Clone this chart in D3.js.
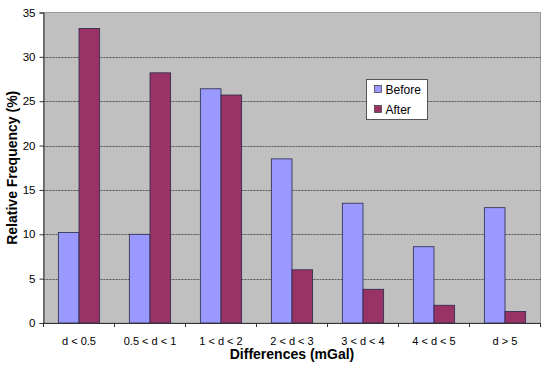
<!DOCTYPE html>
<html>
<head>
<meta charset="utf-8">
<script src="https://cdn.jsdelivr.net/npm/d3@7"></script>
<style>
  body { margin: 0; background: #fff; }
  text { font-family: Arial, "Liberation Sans", sans-serif; }
</style>
</head>
<body>
<div id="chart"></div>
<script>
let categories = ['d < 0.5', '0.5 < d < 1', '1 < d < 2', '2 < d < 3', '3 < d < 4', '4 < d < 5', 'd > 5']
let before = [10.2, 10.0, 26.4, 18.5, 13.5, 8.6, 13.0]
let after = [33.2, 28.2, 25.7, 6.0, 3.8, 2.0, 1.3]
let seriesNames = ['Before', 'After']
let yTicks = [0, 5, 10, 15, 20, 25, 30, 35]

let width = 550, height = 366
let margin = { top: 12.5, right: 9.5, bottom: 43, left: 43.5 }
let colors = d3.scaleOrdinal().domain(seriesNames).range(['#9999ff', '#993366'])

let svg = d3.select('#chart')
  .append('svg')
  .attr('width', width)
  .attr('height', height)

let x = d3.scaleBand()
  .domain(categories)
  .range([margin.left, width - margin.right])
  .paddingInner(0)

let x1 = d3.scaleBand()
  .domain(seriesNames)
  .range([0, x.bandwidth()])
  .paddingOuter(0.72)
  .paddingInner(0)

let y = d3.scaleLinear()
  .domain([0, 35])
  .range([height - margin.bottom, margin.top])

// plot background
svg.append('rect')
  .attr('x', margin.left)
  .attr('y', margin.top)
  .attr('width', width - margin.left - margin.right)
  .attr('height', height - margin.top - margin.bottom)
  .attr('fill', '#c0c0c0')
  .attr('stroke', '#9a9a9a')
  .attr('stroke-width', 1)

// grid lines
svg.append('g')
  .selectAll('line')
  .data(yTicks.filter(d => d > 0 && d < 35))
  .enter()
  .append('line')
  .attr('x1', margin.left)
  .attr('x2', width - margin.right)
  .attr('y1', d => Math.round(y(d)) + 0.5)
  .attr('y2', d => Math.round(y(d)) + 0.5)
  .attr('stroke', '#555')
  .attr('stroke-width', 1)
  .attr('stroke-dasharray', '2,1')

// bars
let rows = categories.map((c, i) => ({ cat: c, values: [
  { key: 'Before', value: before[i] },
  { key: 'After', value: after[i] }
] }))

svg.append('g')
  .selectAll('g')
  .data(rows)
  .enter()
  .append('g')
  .attr('transform', d => 'translate(' + x(d.cat) + ',0)')
  .selectAll('rect')
  .data(d => d.values)
  .enter()
  .append('rect')
  .attr('x', d => x1(d.key))
  .attr('y', d => y(d.value))
  .attr('width', x1.bandwidth())
  .attr('height', d => y(0) - y(d.value))
  .attr('fill', d => colors(d.key))
  .attr('stroke', '#2a2a4a')
  .attr('stroke-width', 0.8)

// y axis
let yAxis = svg.append('g')
  .attr('transform', 'translate(' + margin.left + ',0)')
  .call(d3.axisLeft(y).tickValues(yTicks).tickSize(4).tickPadding(4))
yAxis.select('.domain').attr('stroke', '#333')
yAxis.selectAll('line').attr('stroke', '#333')
yAxis.selectAll('text')
  .style('font-family', 'Arial, "Liberation Sans", sans-serif')
  .style('font-size', '11.5px')
  .attr('fill', '#000')

// x axis
let xAxis = svg.append('g')
  .attr('transform', 'translate(0,' + y(0) + ')')
  .call(d3.axisBottom(x).tickSize(0).tickPadding(14))
xAxis.select('.domain').attr('stroke', '#333')
xAxis.selectAll('text')
  .style('font-family', 'Arial, "Liberation Sans", sans-serif')
  .style('font-size', '11px')
  .attr('fill', '#000')

// x ticks between categories
xAxis.append('g')
  .selectAll('line')
  .data(categories.concat(['end']))
  .enter()
  .append('line')
  .attr('x1', (d, i) => margin.left + i * x.step())
  .attr('x2', (d, i) => margin.left + i * x.step())
  .attr('y1', 0)
  .attr('y2', 4)
  .attr('stroke', '#333')

// axis titles
svg.append('text')
  .attr('x', (margin.left + width - margin.right) / 2)
  .attr('y', 359)
  .attr('text-anchor', 'middle')
  .style('font-size', '14px')
  .style('font-weight', 'bold')
  .text('Differences (mGal)')

svg.append('text')
  .attr('transform', 'translate(17,' + (margin.top + (height - margin.top - margin.bottom) / 2) + ') rotate(-90)')
  .attr('text-anchor', 'middle')
  .style('font-size', '14px')
  .style('font-weight', 'bold')
  .text('Relative Frequency (%)')

// legend
let legend = svg.append('g').attr('transform', 'translate(366.5,79.5)')
legend.append('rect')
  .attr('width', 61)
  .attr('height', 40)
  .attr('fill', '#fff')
  .attr('stroke', '#555')
  .attr('stroke-width', 1)

let items = legend.selectAll('g.item')
  .data(seriesNames)
  .enter()
  .append('g')
  .attr('class', 'item')
  .attr('transform', (d, i) => 'translate(8,' + (6 + i * 20) + ')')
items.append('rect')
  .attr('width', 7)
  .attr('height', 7)
  .attr('fill', d => colors(d))
  .attr('stroke', '#333')
  .attr('stroke-width', 0.7)
items.append('text')
  .attr('x', 11)
  .attr('y', 8)
  .style('font-size', '12px')
  .text(d => d)
</script>
</body>
</html>
